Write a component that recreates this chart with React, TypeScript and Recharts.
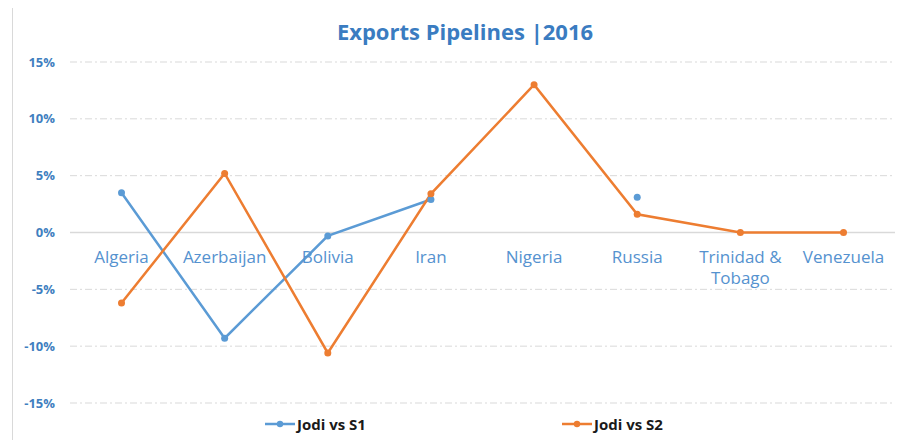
import React from "react";
import {
  LineChart,
  Line,
  XAxis,
  YAxis,
  CartesianGrid,
  ReferenceLine,
} from "recharts";

const categories = [
  "Algeria",
  "Azerbaijan",
  "Bolivia",
  "Iran",
  "Nigeria",
  "Russia",
  "Trinidad & Tobago",
  "Venezuela",
];
const jodiVsS1: (number | null)[] = [0.035, -0.093, -0.003, 0.029, null, 0.031, null, null];
const jodiVsS2: (number | null)[] = [-0.062, 0.052, -0.106, 0.034, 0.13, 0.016, 0, 0];
const yTicks = [-0.15, -0.1, -0.05, 0, 0.05, 0.1, 0.15];
const seriesNames = ["Jodi vs S1", "Jodi vs S2"];

const data = categories.map((c, i) => ({
  name: c,
  s1: jodiVsS1[i],
  s2: jodiVsS2[i],
}));

const BLUE = "#5b9bd5";
const ORANGE = "#ed7d31";
const FONT = "'Open Sans', 'Liberation Sans', sans-serif";

const W = 918;
const H = 448;
const X_AXIS_H = 45;
const M = { top: 62, right: 23, bottom: 0, left: 0 };
const plotH = H - M.top - M.bottom - X_AXIS_H;

const CategoryTick = (props: any) => {
  const { x, y, payload } = props;
  // y is at bottom of plot; move labels up to the zero line (middle of symmetric domain)
  const zeroY = y - plotH / 2;
  const words: string[] = String(payload.value).includes("&")
    ? ["Trinidad &", "Tobago"]
    : [payload.value];
  return (
    <text
      x={x}
      y={zeroY + 30}
      textAnchor="middle"
      fill="#5592cf"
      fontSize={17}
      fontFamily={FONT}
    >
      {words.map((w, i) => (
        <tspan key={i} x={x} dy={i === 0 ? 0 : 21}>
          {w}
        </tspan>
      ))}
    </text>
  );
};

const LegendBlock = () => {
  const items = [
    { name: seriesNames[0], color: BLUE, left: 265 },
    { name: seriesNames[1], color: ORANGE, left: 562 },
  ];
  return (
    <div style={{ position: "absolute", left: 0, top: 414, width: W, height: 20 }}>
      {items.map((it) => (
        <div
          key={it.name}
          style={{
            position: "absolute",
            left: it.left,
            top: 0,
            display: "flex",
            alignItems: "center",
            height: 20,
          }}
        >
          <svg width={31} height={10}>
            <line x1={0} y1={5} x2={30} y2={5} stroke={it.color} strokeWidth={2.5} />
            <circle cx={15} cy={5} r={3.2} fill={it.color} />
          </svg>
          <span
            style={{
              fontFamily: FONT,
              fontWeight: 700,
              fontSize: 15,
              color: "#1a1a1a",
              marginLeft: 1,
            }}
          >
            {it.name}
          </span>
        </div>
      ))}
    </div>
  );
};

export default function App() {
  return (
    <div
      style={{
        position: "relative",
        width: W,
        height: H,
        margin: -8,
        background: "#fff",
        overflow: "hidden",
      }}
    >
      <div
        style={{
          position: "absolute",
          left: 7,
          top: 0,
          width: W - 7,
          height: 2,
          background: "#d9d9d9",
        }}
      />
      <div
        style={{
          position: "absolute",
          left: 12,
          top: 6,
          width: 898,
          height: 460,
          border: "1px solid #d9d9d9",
          borderRightWidth: 2,
        }}
      />
      <div
        style={{
          position: "absolute",
          left: 0,
          top: 16,
          width: W,
          textAlign: "center",
          fontFamily: FONT,
          fontWeight: 700,
          fontSize: 22,
          color: "#3a7cc1",
          paddingLeft: 6,
        }}
      >
        Exports Pipelines |2016
      </div>
      <div style={{ position: "absolute", left: 0, top: 0 }}>
        <LineChart width={W} height={H} data={data} margin={M}>
          <CartesianGrid
            vertical={false}
            stroke="#d9d9d9"
            strokeDasharray="7 3 2 3"
          />
          <XAxis
            dataKey="name"
            axisLine={false}
            tickLine={false}
            tickSize={0}
            tickMargin={0}
            interval={0}
            padding={{ left: 51.5, right: 51.5 }}
            tick={<CategoryTick />}
            height={X_AXIS_H}
          />
          <YAxis
            domain={[-0.15, 0.15]}
            ticks={yTicks}
            axisLine={false}
            tickLine={false}
            tickSize={0}
            tickMargin={15}
            width={70}
            tickFormatter={(v: number) => `${Math.round(v * 100)}%`}
            tick={{
              fill: "#3f7fc0",
              fontSize: 13,
              fontWeight: 700,
              fontFamily: FONT,
            }}
          />
          <ReferenceLine y={0} stroke="#d9d9d9" strokeWidth={1.5} />
          <Line
            type="linear"
            dataKey="s1"
            name={seriesNames[0]}
            stroke={BLUE}
            strokeWidth={2.5}
            dot={{ r: 3.5, fill: BLUE, stroke: BLUE, strokeWidth: 0 }}
            activeDot={false}
            connectNulls={false}
            isAnimationActive={false}
          />
          <Line
            type="linear"
            dataKey="s2"
            name={seriesNames[1]}
            stroke={ORANGE}
            strokeWidth={2.5}
            dot={{ r: 3.5, fill: ORANGE, stroke: ORANGE, strokeWidth: 0 }}
            activeDot={false}
            connectNulls={false}
            isAnimationActive={false}
          />
        </LineChart>
      </div>
      <LegendBlock />
    </div>
  );
}
